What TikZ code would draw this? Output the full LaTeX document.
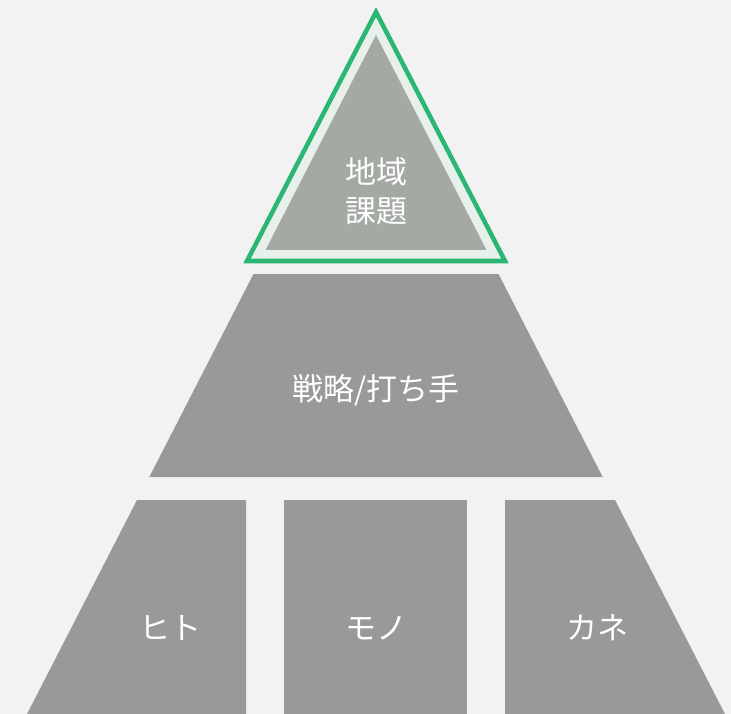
\documentclass[tikz,border=0pt]{standalone}
\usepackage{fontspec}
\newfontfamily\jpfont{Noto Sans CJK JP}
\definecolor{bgc}{HTML}{F2F2F2}
\definecolor{blockgray}{HTML}{999999}
\definecolor{topgray}{HTML}{A4A9A4}
\definecolor{band}{HTML}{E8F0EC}
\definecolor{greenline}{HTML}{2BB673}
\tikzset{
  blockfill/.style={fill=blockgray},
  lbl/.style={text=white,font=\jpfont\fontsize{31}{39}\selectfont,align=center,inner sep=0pt}
}
\begin{document}
\begin{tikzpicture}[x=1pt,y=-1pt]
\useasboundingbox (0,0) rectangle (731,714);
\fill[bgc] (0,0) rectangle (731,714);
% top triangle
\filldraw[fill=band,draw=greenline,line width=4.5pt,line join=miter] (376,12) -- (505,261) -- (247,261) -- cycle;
\fill[topgray] (376,35) -- (486.5,250) -- (265.5,250) -- cycle;
\node[lbl] (top) at (376,191) {地域\\課題};
% middle trapezoid
\fill[blockfill] (253.5,274) -- (498.5,274) -- (602.7,477) -- (149.3,477) -- cycle;
\node[lbl] (mid) at (376,390) {戦略/打ち手};
% bottom blocks
\fill[blockfill] (137,500) -- (246,500) -- (246,714) -- (27,714) -- cycle;
\fill[blockfill] (284,500) -- (467,500) -- (467,714) -- (284,714) -- cycle;
\fill[blockfill] (505,500) -- (615,500) -- (725,714) -- (505,714) -- cycle;
\node[lbl] (hito) at (170,628) {ヒト};
\node[lbl] (mono) at (376,628) {モノ};
\node[lbl] (kane) at (597,628) {カネ};
\end{tikzpicture}
\end{document}
